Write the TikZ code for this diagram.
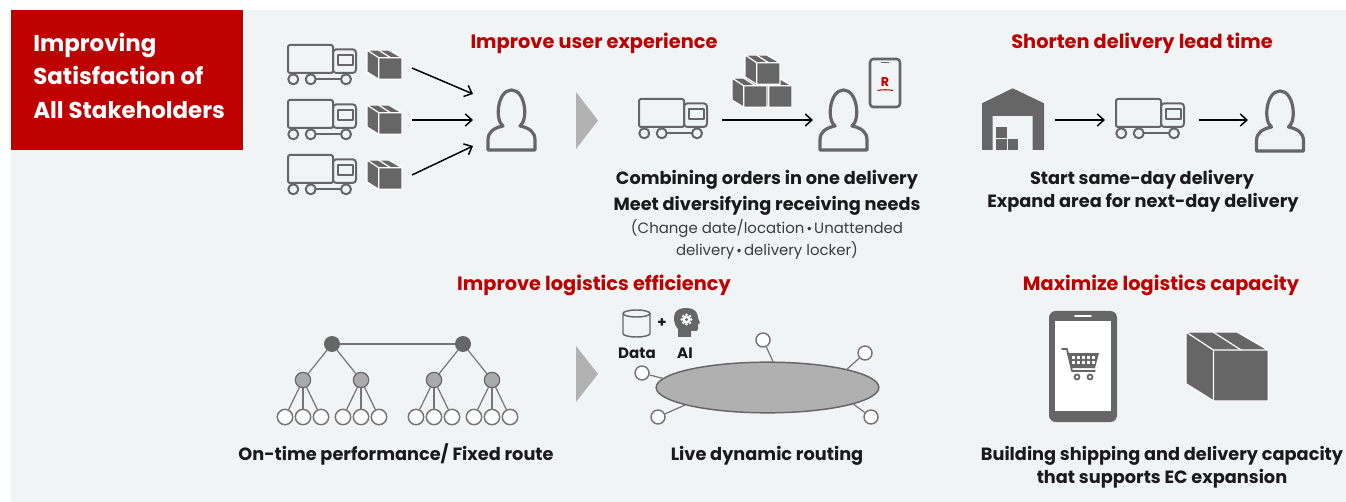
\documentclass[tikz,border=0pt]{standalone}
\usepackage{fontspec}
\setmainfont{Poppins}
\newfontfamily\dotfont{DejaVu Sans}
\usetikzlibrary{shapes.geometric,arrows.meta}
\definecolor{panel}{HTML}{F1F4F5}
\definecolor{brand}{HTML}{BF0000}
\definecolor{icongray}{HTML}{666666}
\definecolor{midgray}{HTML}{AAAAAA}
\definecolor{ink}{HTML}{1A1A1A}
\newcommand{\mdot}{\hspace{1pt}{\dotfont\fontsize{9}{9}\selectfont •}\hspace{1pt}}
\tikzset{
  iconline/.style={draw=icongray, line width=1.5pt, line join=round, line cap=round},
  heading/.style={text=brand, font=\bfseries\fontsize{14.5}{16}\selectfont, anchor=mid, inner sep=0},
  body/.style={text=ink, font=\bfseries\fontsize{13.3}{15}\selectfont, anchor=mid, inner sep=0},
  note/.style={text=ink!85, font=\fontsize{11.2}{13}\selectfont, anchor=mid, inner sep=0},
  title/.style={text=white, font=\bfseries\fontsize{17.2}{20}\selectfont, anchor=mid west, inner sep=0},
  conn/.style={draw=black, line width=1.1pt, -{Straight Barb[length=5pt,width=9pt]}},
  edge/.style={draw=icongray!90, line width=0.9pt},
  rootdot/.style={circle, fill=icongray, minimum size=12pt, inner sep=0},
  middot/.style={circle, fill=midgray, draw=icongray, line width=0.9pt, minimum size=11.5pt, inner sep=0},
  leafdot/.style={circle, fill=white, draw=icongray!90, line width=1.1pt, minimum size=11.5pt, inner sep=0},
  satdot/.style={circle, fill=white, draw=icongray!90, line width=1.1pt, minimum size=10.5pt, inner sep=0},
  truck/.pic={
    \draw[iconline, rounded corners=1.5] (0,0) rectangle (45,28);
    \draw[iconline, rounded corners=2.5] (45,28) -- (45,4.3) -- (68,4.3) -- (68,28) -- cycle;
    \draw[iconline] (49.7,10) rectangle (64.7,20);
    \draw[iconline] (27.5,34.3) -- (53,34.3);
    \foreach \wx in {5.3,22.7,58} \draw[iconline, fill=panel] (\wx,34.3) circle (5);
  },
  parcel/.pic={
    \filldraw[fill=icongray, draw=white, line width=0.9pt, line join=round]
      (0,0) -- (21.7,0) -- (35,7.7) -- (11.7,7.7) -- cycle
      (0,0) -- (11.7,7.7) -- (11.7,29.3) -- (0,22) -- cycle
      (11.7,7.7) rectangle (35,29.3);
    \draw[white, line width=0.9pt] (11.5,0) -- (23.5,7.7);
  },
  person/.pic={
    \draw[draw=icongray, line width=2.4pt, line join=round]
      (-8.5,36) .. controls (-17,30) and (-14,0) .. (0,0)
      .. controls (14,0) and (17,30) .. (8.5,36)
      .. controls (18,38) and (23.5,42) .. (23.5,50) -- (23.5,60) -- (-23.5,60) -- (-23.5,50)
      .. controls (-23.5,42) and (-18,38) .. (-8.5,36) -- cycle;
  }
}
\begin{document}
\begin{tikzpicture}[x=0.75pt,y=-0.75pt]
\useasboundingbox (0,0) rectangle (1346,502);
\fill[white] (0,0) rectangle (1346,502);
\fill[panel] (11,10) rectangle (1346,502);
\fill[brand] (11,10) rectangle (243,150);

% title block
\node[title] (t1) at (33,48) {Improving};
\node[title] (t2) at (33,81) {Satisfaction of};
\node[title] (t3) at (33,115) {All Stakeholders};

% section headings
\node[heading] (h1) at (594,45) {Improve user experience};
\node[heading] (h2) at (1142,45) {Shorten delivery lead time};
\node[heading] (h3) at (594,287) {Improve logistics efficiency};
\node[heading] (h4) at (1161,287) {Maximize logistics capacity};

% separate deliveries
\pic at (288,45) {truck};
\pic at (288,100) {truck};
\pic at (288,155) {truck};
\pic at (367,50) {parcel};
\pic at (367,105) {parcel};
\pic at (367,160) {parcel};
\pic at (511.5,90) {person};
\coordinate (s1) at (412,68);  \coordinate (e1) at (473,94);
\coordinate (s2) at (412,120); \coordinate (e2) at (473,120);
\coordinate (s3) at (412,175); \coordinate (e3) at (473,146);
\draw[conn] (s1) -- (e1);
\draw[conn] (s2) -- (e2);
\draw[conn] (s3) -- (e3);

% step chevrons
\fill[black!30] (576,92) -- (598,120.5) -- (576,149) -- cycle;
\fill[black!30] (576,346) -- (598,374) -- (576,402) -- cycle;

% combined delivery
\pic at (639,99) {truck};
\pic at (757,78) {parcel};
\pic at (732,78) {parcel};
\pic at (745,55) {parcel};
\pic at (843.5,90) {person};
\coordinate (s4) at (722,120); \coordinate (e4) at (813,120);
\draw[conn] (s4) -- (e4);
\filldraw[fill=panel, draw=icongray, line width=1.9pt, rounded corners=2.5] (870,59) rectangle (900,107);
\draw[icongray, line width=1pt] (881,62.5) -- (889,62.5);
\node[text=brand, font=\bfseries\fontsize{9.5}{10}\selectfont, inner sep=0] (rlogo) at (885,82) {R};
\draw[brand, line width=0.8pt] (877.5,90.5) .. controls (882,89.5) and (888,89.5) .. (893,90.5);

\node[body] (b1) at (767,181) {Combining orders in one delivery};
\node[body] (b2) at (767,207) {Meet diversifying receiving needs};
\node[note] (n1) at (767,230) {(Change date/location\mdot Unattended};
\node[note] (n2) at (767,252) {delivery\mdot delivery locker)};

% same-day delivery chain
\fill[icongray] (982,103.3) -- (1012.7,88.3) -- (1044,103.3) -- (1044,150) -- (1032.7,150)
  -- (1032.7,116) -- (992.7,116) -- (992.7,150) -- (982,150) -- cycle;
\fill[icongray] (996,127.3) rectangle (1006.7,138.3);
\fill[icongray] (996,139.3) rectangle (1006.7,150);
\fill[icongray] (1007.7,139.3) rectangle (1018.3,150);
\pic at (1116,99) {truck};
\pic at (1280,91) {person};
\coordinate (s5) at (1055,120); \coordinate (e5) at (1105,120);
\coordinate (s6) at (1199,120); \coordinate (e6) at (1248,120);
\draw[conn] (s5) -- (e5);
\draw[conn] (s6) -- (e6);
\node[body] (b3) at (1142,181) {Start same-day delivery};
\node[body] (b4) at (1143,204) {Expand area for next-day delivery};

% fixed route tree
\node[rootdot] (r1) at (332,344) {};
\node[rootdot] (r2) at (463,344) {};
\node[middot] (m1) at (303,380) {};
\node[middot] (m2) at (361,380) {};
\node[middot] (m3) at (434,380) {};
\node[middot] (m4) at (492,380) {};
\draw[edge] (r1) -- (r2);
\draw[edge] (r1) -- (m1);
\draw[edge] (r1) -- (m2);
\draw[edge] (r2) -- (m3);
\draw[edge] (r2) -- (m4);
\foreach \m/\x in {1/303,2/361,3/434,4/492}{
  \foreach \d/\k in {-18/a,0/b,18/c}{
    \node[leafdot] (l\m\k) at (\x+\d,417) {};
    \draw[edge] (m\m) -- (l\m\k);
  }
}
\node[body] (b5) at (396,457) {On-time performance/ Fixed route};

% dynamic routing
\draw[icongray, line width=1.1pt] (623,313.5) arc[start angle=180, end angle=-180, x radius=13.5, y radius=3.5];
\draw[icongray, line width=1.1pt] (623,313.5) -- (623,333.5) arc[start angle=180, end angle=0, x radius=13.5, y radius=3.5] -- (650,313.5);
\node[text=ink, font=\bfseries\fontsize{11}{12}\selectfont, inner sep=0] (plus) at (662,323) {+};
\fill[icongray] (678,337) -- (678,329) .. controls (674,325) and (673,318) .. (675,313)
  .. controls (677,309) and (682,308) .. (687,308) .. controls (694,308) and (698,312) .. (698,318)
  -- (700,323) -- (698,324) -- (698,329) .. controls (698,331) and (696,331) .. (694,331)
  -- (691,331) -- (691,337) -- cycle;
\fill[white] (686.5,319.5) circle (4);
\foreach \a in {0,45,...,315} \fill[white] ([shift={(\a:4.6)}]686.5,319.5) circle (1.5);
\fill[icongray] (686.5,319.5) circle (1.6);
\node[text=ink, font=\bfseries\fontsize{11.3}{12}\selectfont, anchor=mid, inner sep=0] (data) at (637,355) {Data};
\node[text=ink, font=\bfseries\fontsize{11.3}{12}\selectfont, anchor=mid, inner sep=0] (ai) at (685,355) {AI};

\node[ellipse, fill=black!31, draw=icongray, line width=1.1pt, minimum width=167pt, minimum height=38pt, inner sep=0] (route) at (767.5,387.5) {};
\node[satdot] (p1) at (763,340) {};
\node[satdot] (p2) at (865,353) {};
\node[satdot] (p3) at (642,373) {};
\node[satdot] (p4) at (658,417) {};
\node[satdot] (p5) at (871,417) {};
\draw[edge] (p1) -- (route.78);
\draw[edge] (p2) -- (route.13);
\draw[edge] (p3) -- (route.175);
\draw[edge] (p4) -- (route.192);
\draw[edge] (p5) -- (route.-11);
\node[body] (b6) at (767,457) {Live dynamic routing};

% EC capacity
\fill[icongray, rounded corners=5] (1049,311) rectangle (1117,422);
\fill[white] (1055,321) rectangle (1111,411);
\draw[white, line width=1.2pt, line cap=round] (1075,316) -- (1091,316);
\draw[icongray, line width=1.3pt, line cap=round, line join=round] (1062,349) -- (1067,349) -- (1072,371) -- (1095,371);
\fill[icongray] (1067,353) -- (1099,353) -- (1095,368) -- (1071,368) -- cycle;
\foreach \gx in {1071,1076,1081,1086,1091}{
  \fill[white] (\gx+0.5,355.5) rectangle ++(3,3);
  \fill[white] (\gx+1,361) rectangle ++(3,3);
}
\draw[icongray, line width=1.3pt, fill=white] (1077,377) circle (2.5);
\draw[icongray, line width=1.3pt, fill=white] (1090,377) circle (2.5);
\pic[scale=2.35] at (1186,332) {parcel};
\node[body] (b7) at (1162,457) {Building shipping and delivery capacity};
\node[body] (b8) at (1162,480) {that supports EC expansion};
\end{tikzpicture}
\end{document}
